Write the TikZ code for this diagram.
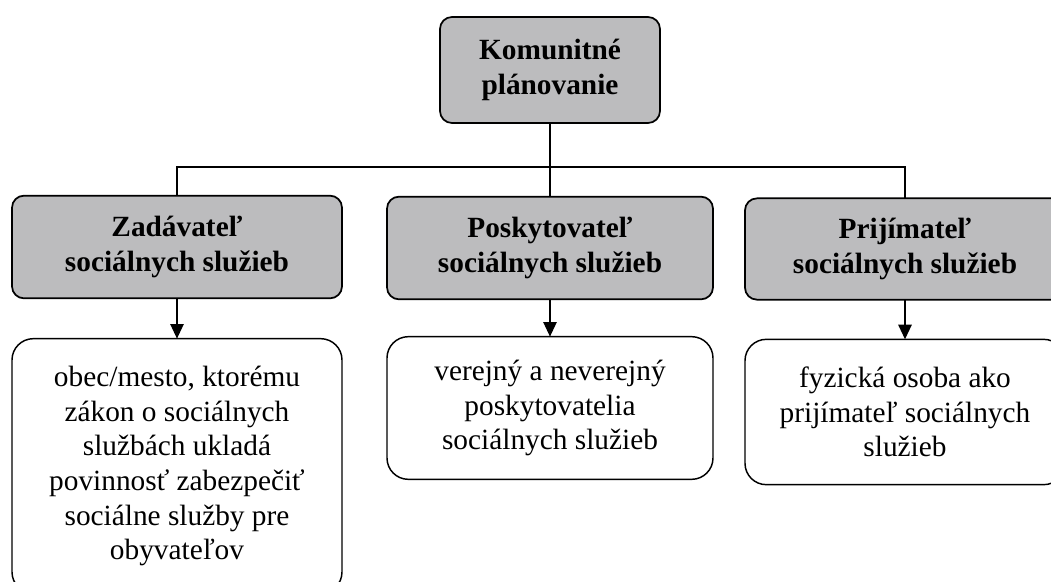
\documentclass[tikz,border=0pt]{standalone}
\usepackage{fontspec}
\setmainfont{Liberation Serif}
\usetikzlibrary{arrows.meta}
\definecolor{boxgray}{RGB}{188,188,190}
\begin{document}
\begin{tikzpicture}[x=0.75pt,y=-0.75pt,
  graybox/.style={draw=black, line width=1.3pt, fill=boxgray, rounded corners=9pt,
    inner sep=0pt, outer sep=0pt, align=center,
    font=\fontsize{22}{26}\selectfont\bfseries},
  whitebox/.style={draw=black, line width=1.1pt, fill=white, rounded corners=16pt,
    inner sep=0pt, outer sep=0pt, align=center,
    font=\fontsize{22}{26}\selectfont},
  link/.style={draw=black, line width=1.3pt},
  arrowlink/.style={link, -{Triangle[length=11pt,width=10pt]}}]
\clip (0,0) rectangle (1051,582);
\fill[white] (0,0) rectangle (1051,582);

\node[graybox, minimum width=165pt, minimum height=79.5pt] (top) at (550,70)
  {Komunitné\\plánovanie};
\node[graybox, minimum width=247.5pt, minimum height=77pt] (g1) at (177,247)
  {Zadávateľ\\sociálnych služieb};
\node[graybox, minimum width=244.5pt, minimum height=77pt] (g2) at (550,248)
  {Poskytovateľ\\sociálnych služieb};
\node[graybox, minimum width=240pt, minimum height=76pt] (g3) at (905,249)
  {Prijímateľ\\sociálnych služieb};

\node[whitebox, minimum width=247.5pt, minimum height=191pt] (w1) at (177,466)
  {obec/mesto, ktorému\\zákon o sociálnych\\službách ukladá\\povinnosť zabezpečiť\\sociálne služby pre\\obyvateľov};
\node[whitebox, minimum width=244.5pt, minimum height=107pt] (w2) at (550,408)
  {verejný a neverejný\\poskytovatelia\\sociálnych služieb};
\node[whitebox, minimum width=240pt, minimum height=109pt] (w3) at (905,412)
  {fyzická osoba ako\\prijímateľ sociálnych\\služieb};

\coordinate (bus) at (0,167);
\draw[link] (top.south) -- (g2.north);
\draw[link] (g1.north) -- (g1.north |- bus) -- (g3.north |- bus) -- (g3.north);

\draw[arrowlink] (g1.south) -- (w1.north);
\draw[arrowlink] (g2.south) -- (w2.north);
\draw[arrowlink] (g3.south) -- (w3.north);
\end{tikzpicture}
\end{document}
